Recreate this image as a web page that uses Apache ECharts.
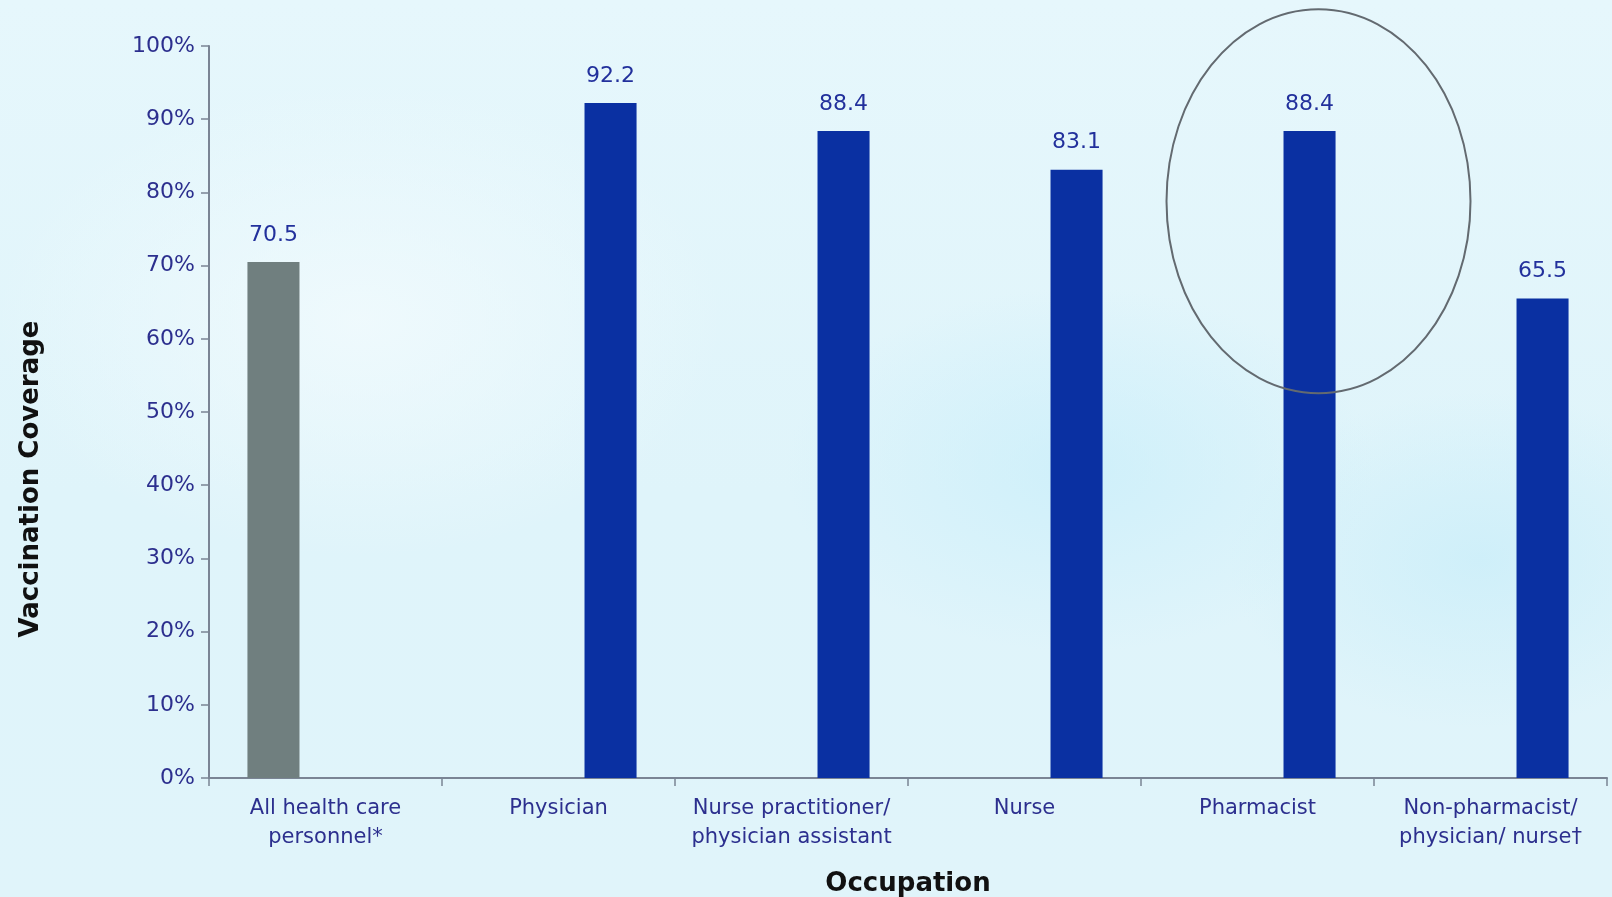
<!DOCTYPE html>
<html>
<head>
<meta charset="utf-8">
<title>Vaccination Coverage by Occupation</title>
<script src="https://cdn.jsdelivr.net/npm/echarts@6/dist/echarts.min.js"></script>
<style>
  html, body { margin: 0; padding: 0; }
  body {
    width: 1612px; height: 897px; overflow: hidden;
    background:
      radial-gradient(ellipse 420px 260px at 1080px 470px, rgba(200,238,250,0.7), rgba(200,238,250,0) 70%),
      radial-gradient(ellipse 360px 240px at 1480px 560px, rgba(196,236,249,0.6), rgba(196,236,249,0) 70%),
      radial-gradient(ellipse 520px 340px at 360px 320px, rgba(240,250,253,0.9), rgba(240,250,253,0) 70%),
      linear-gradient(180deg, #e6f7fc 0%, #dff4fa 55%, #e0f4fa 100%);
  }
  #chart { width: 1612px; height: 897px; }
</style>
</head>
<body>
<div id="chart"></div>
<script>
// Occupation categories (x axis)
const occupations = [
  'All health care\npersonnel*',
  'Physician',
  'Nurse practitioner/\nphysician assistant',
  'Nurse',
  'Pharmacist',
  'Non-pharmacist/\nphysician/ nurse\u2020'
];
// Overall coverage (gray bar) and coverage by occupation (blue bars), in percent
const overallCoverage = [70.5, null, null, null, null, null];
const occupationCoverage = [null, 92.2, 88.4, 83.1, 88.4, 65.5];
// Y axis ticks
const yTicks = [0, 10, 20, 30, 40, 50, 60, 70, 80, 90, 100];

const chart = echarts.init(document.getElementById('chart'), null, { renderer: 'canvas' });

const tickColor = '#2c2f8e';
const labelStyle = {
  show: true,
  position: 'top',
  distance: 16,
  color: '#22309c',
  fontFamily: 'DejaVu Sans',
  fontSize: 22
};

chart.setOption({
  backgroundColor: 'transparent',
  animation: false,
  grid: { left: 209, right: 5, top: 46, bottom: 119, containLabel: false, outerBoundsMode: 'none' },
  xAxis: {
    type: 'category',
    data: occupations,
    name: 'Occupation',
    nameLocation: 'middle',
    nameGap: 93,
    nameTextStyle: { fontFamily: 'DejaVu Sans', fontWeight: 'bold', fontSize: 26, color: '#111' },
    axisLine: { lineStyle: { color: '#7a8494', width: 2 } },
    axisTick: { show: true, length: 8, lineStyle: { color: '#7a8494', width: 1.5 } },
    axisLabel: {
      margin: 16,
      color: tickColor,
      fontFamily: 'DejaVu Sans',
      fontSize: 21,
      lineHeight: 29,
      interval: 0
    }
  },
  yAxis: {
    type: 'value',
    min: yTicks[0],
    max: yTicks[yTicks.length - 1],
    interval: 10,
    name: 'Vaccination Coverage',
    nameLocation: 'middle',
    nameGap: 165,
    nameTextStyle: {
      fontFamily: 'DejaVu Sans', fontWeight: 'bold', fontSize: 26, color: '#111',
      padding: [0, 134, 0, 0]
    },
    axisLine: { show: true, lineStyle: { color: '#7a8494', width: 2 } },
    axisTick: { show: true, length: 8, lineStyle: { color: '#7a8494', width: 1.5 } },
    splitLine: { show: false },
    axisLabel: {
      margin: 14,
      color: tickColor,
      fontFamily: 'DejaVu Sans',
      fontSize: 22,
      formatter: v => v + '%'
    }
  },
  series: [
    {
      name: 'Overall',
      type: 'bar',
      data: overallCoverage,
      barGap: '100%',
      barCategoryGap: '33%',
      itemStyle: { color: '#707f7f' },
      label: labelStyle
    },
    {
      name: 'By occupation',
      type: 'bar',
      data: occupationCoverage,
      barGap: '100%',
      barCategoryGap: '33%',
      itemStyle: { color: '#0a30a2' },
      label: labelStyle
    }
  ]
});

// Highlight ring around the pharmacist bar
const ringCenter = chart.convertToPixel({ gridIndex: 0 }, ['Pharmacist', 78.8]);
chart.setOption({
  graphic: [{
    type: 'ellipse',
    shape: { cx: ringCenter[0] + 61, cy: ringCenter[1], rx: 152, ry: 192 },
    style: { fill: 'none', stroke: '#636a70', lineWidth: 2 },
    z: 10
  }]
});
</script>
</body>
</html>
